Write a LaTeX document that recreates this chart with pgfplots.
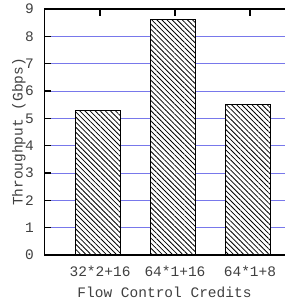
\documentclass[border=0pt]{standalone}
\usepackage{fontspec}
\setmainfont{Liberation Mono}
\usepackage{pgfplots}
\pgfplotsset{compat=1.18}
\usetikzlibrary{patterns.meta}
\begin{document}
\begin{tikzpicture}
\begin{axis}[
  name=ax,
  scale only axis,
  width=241pt, height=246pt,
  xmin=-0.747, xmax=2.467,
  ymin=0, ymax=9,
  axis x line=box, axis y line*=left,
  axis line style={draw=none},
  ytick={0,1,2,3,4,5,6,7,8,9},
  xtick={0,1,2},
  xticklabels={32*2+16,64*1+16,64*1+8},
  xtick pos=right, xticklabel pos=left,
  tick align=inside,
  major tick length=7pt,
  every tick/.style={draw=black, line width=1.5pt},
  ymajorgrids,
  grid style={draw={rgb,255:red,120;green,120;blue,235}, line width=0.5pt},
  font=\fontsize{14.5}{17}\selectfont,
  every tick label/.append style={text=black!75},
  yticklabel style={anchor=east, inner sep=0pt, xshift=-10pt},
  xticklabel style={anchor=north, inner sep=0pt, yshift=-11pt},
  /pgf/number format/assume math mode=true,
  xlabel={Flow Control Credits},
  ylabel={Throughput (Gbps)},
  xlabel style={at={(axis description cs:0.5,-0.150)}, anchor=center, text=black!75},
  ylabel style={at={(axis description cs:-0.104,0.5)}, anchor=center, text=black!75},
]
\addplot[ybar, bar width=45pt, draw=black, line width=1pt, fill=white,
  postaction={pattern={Lines[angle=-45, distance=3.6pt, line width=0.8pt]}}]
  coordinates {(-0.033,5.3) (0.967,8.6) (1.967,5.5)};
\draw[black, line width=2.5pt] (rel axis cs:0,1) -- (rel axis cs:0,0) -- (rel axis cs:1,0);
\draw[black, line width=2.5pt] (rel axis cs:0,1) -- (rel axis cs:1,1);
\end{axis}
\path ([xshift=-44pt,yshift=-51pt]ax.south west) rectangle ([xshift=1pt,yshift=9pt]ax.north east);
\end{tikzpicture}
\end{document}
